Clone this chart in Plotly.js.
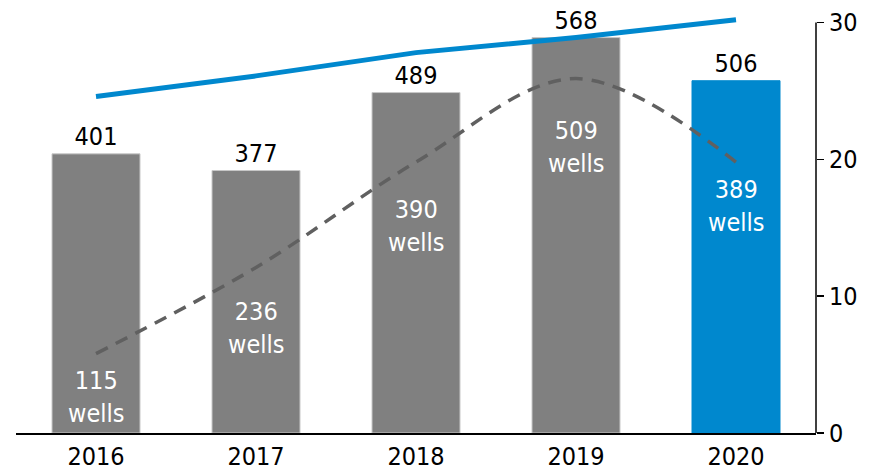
<!DOCTYPE html>
<html>
<head>
<meta charset="utf-8">
<script src="https://cdn.plot.ly/plotly-3.0.1.min.js"></script>
<style>html,body{margin:0;padding:0;background:#fff;}#chart{width:884px;height:470px;}</style>
</head>
<body>
<div id="chart"></div>
<script>
var years = ["2016", "2017", "2018", "2019", "2020"];
var barValues = [401, 377, 489, 568, 506];
var wells = [115, 236, 390, 509, 389];
var solidLine = [24.6, 26.1, 27.8, 28.9, 30.2];
var dashedLine = [5.8, 12.1, 19.8, 25.9, 19.8];
var wellLabelY = [2.6, 7.7, 15.1, 20.9, 16.6];
var rightTicks = [0, 10, 20, 30];

var FONT = "DejaVu Sans Condensed, DejaVu Sans, sans-serif";
var FS = 25;
var Y2MAX = 31.5;
var Y1MAX = 589.6 * Y2MAX / 30;
var barColors = years.map(function (y, i) { return i === years.length - 1 ? "#0088CE" : "#808080"; });
var barLineColors = years.map(function (y, i) { return i === years.length - 1 ? "#0088CE" : "#C8C8C8"; });

var traces = [
  {
    type: "bar",
    x: years,
    y: barValues,
    width: 0.55,
    marker: { color: barColors, line: { color: barLineColors, width: 1 } },
    text: barValues.map(String),
    textposition: "outside",
    textfont: { family: FONT, size: FS, color: "#000" },
    cliponaxis: false,
    hoverinfo: "none",
    yaxis: "y"
  },
  {
    type: "scatter",
    mode: "lines",
    x: years,
    y: dashedLine,
    line: { color: "#606060", width: 3.5, dash: "13px,9px", shape: "spline", smoothing: 1 },
    yaxis: "y2",
    cliponaxis: false,
    hoverinfo: "none"
  },
  {
    type: "scatter",
    mode: "lines",
    x: years,
    y: solidLine,
    line: { color: "#0088CE", width: 5 },
    yaxis: "y2",
    cliponaxis: false,
    hoverinfo: "none"
  }
];

var annotations = years.map(function (yr, i) {
  return {
    x: i, y: wellLabelY[i], xref: "x", yref: "y2",
    text: wells[i] + "<br>wells",
    showarrow: false,
    font: { family: FONT, size: FS, color: "#ffffff" },
    align: "center"
  };
});

var layout = {
  width: 884,
  height: 470,
  margin: { l: 16, r: 68, t: 1.5, b: 37 },
  paper_bgcolor: "#fff",
  plot_bgcolor: "#fff",
  showlegend: false,
  font: { family: FONT, size: FS, color: "#000" },
  xaxis: {
    type: "category",
    range: [-0.5, 4.5],
    showline: true,
    linecolor: "#000",
    linewidth: 1.5,
    ticks: "",
    showgrid: false,
    zeroline: false,
    tickfont: { family: FONT, size: FS, color: "#000" }
  },
  yaxis: {
    range: [0, Y1MAX],
    showticklabels: false,
    showline: false,
    ticks: "",
    showgrid: false,
    zeroline: false
  },
  yaxis2: {
    overlaying: "y",
    side: "right",
    range: [0, Y2MAX],
    tickvals: rightTicks,
    showline: false,
    ticks: "outside",
    ticklen: 7,
    tickwidth: 1.5,
    tickcolor: "#000",
    showgrid: false,
    zeroline: false,
    tickfont: { family: FONT, size: FS, color: "#000" }
  },
  shapes: [
    {
      type: "line", xref: "paper", yref: "y2",
      x0: 1, x1: 1, y0: 0, y1: rightTicks[rightTicks.length - 1],
      line: { color: "#000", width: 1.5 }
    }
  ],
  annotations: annotations
};

Plotly.newPlot("chart", traces, layout, { displayModeBar: false, staticPlot: true });
</script>
</body>
</html>
